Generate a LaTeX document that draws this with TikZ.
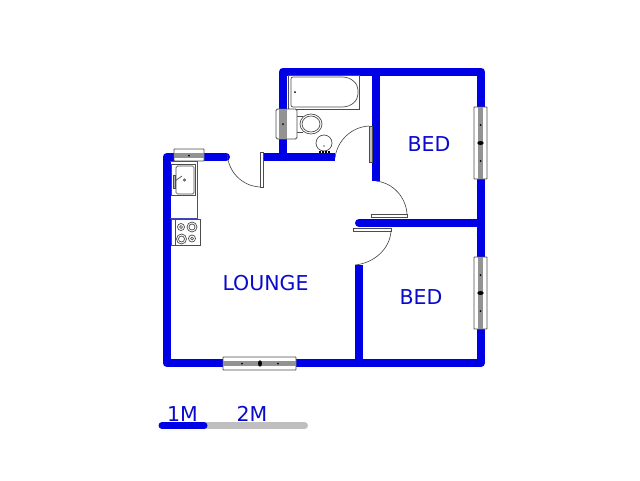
\documentclass[tikz,border=0pt]{standalone}
\usepackage{fontspec}
\setmainfont{DejaVu Sans}
\definecolor{wallblue}{RGB}{0,0,230}
\definecolor{textblue}{RGB}{10,10,205}
\tikzset{
  wall/.style={wallblue, line width=8pt, line join=round, line cap=round},
  wallend/.style={wallblue, line width=8pt},
  fixture/.style={draw=black!70, line width=.7pt},
  frame/.style={draw=black!70, fill=white, line width=.8pt},
  glass/.style={gray!85, line width=4.6pt},
  swing/.style={black!75, line width=.6pt},
  roomlabel/.style={textblue, font=\fontsize{20.5}{20.5}\selectfont, inner sep=0pt},
}
\begin{document}
\begin{tikzpicture}[x=1pt,y=-1pt]
\useasboundingbox (0,0) rectangle (640,480);
% walls
\draw[wall] (226,157)--(166.5,157)--(166.5,363)--(481,363)--(481,107);
\draw[wall] (481,107)--(481,71.5)--(283,71.5)--(283,157);
\draw[wallend] (263,157)--(335,157);
\draw[wallend] (376,71.5)--(376,181);
\draw[wallend] (358.5,265)--(358.5,363);
\draw[wall] (359,223)--(481,223);
% windows
\foreach \wy in {107,257} {
  \draw[frame,rounded corners=.5pt] (474,\wy) rectangle (487,\wy+72);
  \draw[glass] (480.5,\wy)--(480.5,\wy+72);
  \fill (480.5,\wy+18) circle (1);
  \fill (480.5,\wy+36) ellipse (3.2 and 2);
  \fill (480.5,\wy+54) circle (1);
}
\draw[frame,rounded corners=.5pt] (223,357) rectangle (296,370);
\draw[glass] (223,363.5)--(296,363.5);
\foreach \wx in {242,278} \fill (\wx,363.5) circle (1);
\fill (260,363.5) ellipse (2 and 3.2);
\draw[frame,rounded corners=.5pt] (174,149) rectangle (204,161);
\draw[glass] (174,155.5)--(204,155.5);
\fill (189,155.5) circle (1);
% doors
\draw[frame] (260,152) rectangle (263,187);
\draw[swing] (227,153) .. controls (228,172) and (242,186) .. (260,187);
\draw[frame, fill=gray!50] (369,126) rectangle (372,162);
\draw[swing] (335,158) .. controls (337,141) and (351,127) .. (369,126);
\draw[frame] (371,214) rectangle (407,217);
\draw[swing] (376,181) .. controls (394,183) and (406,198) .. (407,214);
\draw[frame] (353,228) rectangle (391,231);
\draw[swing] (391,231) .. controls (390,249) and (374,263) .. (355,265);
% kitchen
\draw[blue!45!gray, line width=.6pt] (170,161)--(197,161)--(197,218)--(170,218);
\draw[fixture, fill=white] (171,164) rectangle (195,195);
\draw[fixture, rounded corners=1.5pt] (176,166) rectangle (194,194);
\draw[fixture, fill=gray!60] (173,175) rectangle (175,188);
\draw[fixture] (175,181)--(182,176);
\draw[fixture] (184.5,180) circle (1.2);
\draw[fixture, fill=white] (171,219) rectangle (200,245);
\draw[fixture] (175,219)--(175,245);
\foreach \rx/\ry/\rr in {181/227/3.5,192/227/5,181.5/239/5,192/238.5/3.5} {
  \draw[fixture] (\rx,\ry) circle (\rr);
  \draw[fixture] (\rx,\ry) circle (\rr-2);
}
% bathroom
\draw[fixture] (288,75) rectangle (359,109);
\draw[fixture, rounded corners=2pt] (291,77)--(291,107)--(340,107) .. controls (352,107) and (358,100) .. (358,92) .. controls (358,84) and (352,77) .. (340,77)--cycle;
\fill (295,92) circle (1);
\draw[fixture, fill=white] (297,116)--(303,116) (297,132)--(303,132);
\draw[fixture, fill=white] (311,124) ellipse (11 and 10);
\draw[fixture] (311,124) ellipse (9 and 8);
\draw[frame, rounded corners=1.5pt] (276,109) rectangle (297,139);
\draw[glass, line width=8pt] (283,109)--(283,139);
\fill (283,124) circle (1);
\draw[fixture] (324,143) circle (8);
\fill[black!60] (324,146) circle (.8);
\draw[black, line width=1.6pt, dash pattern=on 2pt off 1pt] (318.5,152)--(330,152);
% labels
\node[roomlabel] (lounge) at (265.5,283.5) {LOUNGE};
\node[roomlabel] (bedtop) at (429,144.5) {BED};
\node[roomlabel] (bedlow) at (421,297) {BED};
% scale
\draw[gray!50, line width=7pt, line cap=round] (205,425.5)--(304.5,425.5);
\draw[wallblue, line width=7pt, line cap=round] (162,425.5)--(204,425.5);
\node[roomlabel] (onem) at (182.5,414) {1M};
\node[roomlabel] (twom) at (252,414) {2M};
\end{tikzpicture}
\end{document}
